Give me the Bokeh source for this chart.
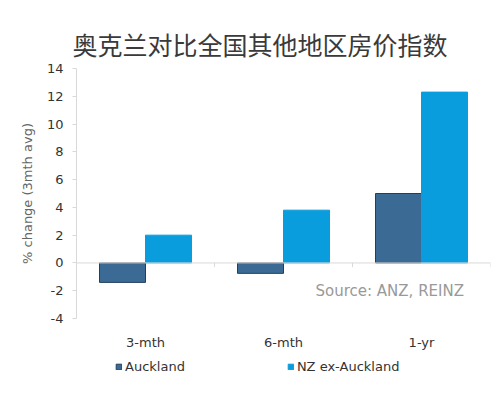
from bokeh.plotting import figure
from bokeh.layouts import column
from bokeh.models import ColumnDataSource, Label, Legend, LegendItem, Span
from bokeh.transform import dodge
from bokeh.embed import file_html
from bokeh.resources import INLINE

categories = ["3-mth", "6-mth", "1-yr"]
auckland = [-1.4, -0.75, 5.0]
nz_ex_auckland = [2.0, 3.8, 12.3]
y_ticks = [-4, -2, 0, 2, 4, 6, 8, 10, 12, 14]
series_names = ["Auckland", "NZ ex-Auckland"]
title_text = "奥克兰对比全国其他地区房价指数"
source_text = "Source: ANZ, REINZ"
y_label = "% change (3mth avg)"

C_AUCK = "#3B6B95"
C_AUCK_LINE = "#22405C"
C_NZ = "#0A9DDD"
FONT = "DejaVu Sans"

src = ColumnDataSource(dict(cat=categories, auck=auckland, nz=nz_ex_auckland))

p = figure(width=492, height=352, x_range=categories, y_range=(-4, 14),
           output_backend="svg", toolbar_location=None,
           min_border_left=76, min_border_right=2, min_border_top=68, min_border_bottom=27)
p.outline_line_color = None
p.xgrid.grid_line_color = None
p.ygrid.grid_line_color = None

p.title.text = title_text
p.title.text_font = "Noto Sans CJK SC"
p.title.text_font_size = "25px"
p.title.text_font_style = "normal"
p.title.text_color = "#3a3a3a"
p.title.align = "left"
p.title.offset = -4
p.title.standoff = 14

p.vbar(x=dodge("cat", -1/6, range=p.x_range), top="auck", width=1/3, source=src,
       fill_color=C_AUCK, line_color=C_AUCK_LINE, line_width=1)
p.vbar(x=dodge("cat", 1/6, range=p.x_range), top="nz", width=1/3, source=src,
       fill_color=C_NZ, line_color=C_NZ, line_width=1)

# zero line
p.add_layout(Span(location=0, dimension="width", line_color="#D9D9D9", line_width=1))
# category boundary ticks on zero line
p.segment(x0=dodge("cat", 0.5, range=p.x_range), x1=dodge("cat", 0.5, range=p.x_range),
          y0=0, y1=-0.3, source=src, line_color="#D9D9D9", line_width=1)

# y axis
ya = p.yaxis[0]
ya.ticker = y_ticks
ya.major_label_overrides = {t: str(t) for t in y_ticks}
ya.axis_line_color = "#D9D9D9"
ya.major_tick_line_color = "#D9D9D9"
ya.major_tick_out = 4
ya.major_tick_in = 0
ya.minor_tick_line_color = None
ya.major_label_text_font = FONT
ya.major_label_text_font_size = "13px"
ya.major_label_text_color = "#333333"
ya.major_label_standoff = 9
ya.axis_label = y_label
ya.axis_label_text_font = FONT
ya.axis_label_text_font_size = "13px"
ya.axis_label_text_font_style = "normal"
ya.axis_label_text_color = "#666666"
ya.axis_label_standoff = 9

# x axis
xa = p.xaxis[0]
xa.axis_line_color = None
xa.major_tick_line_color = None
xa.minor_tick_line_color = None
xa.major_label_text_font = FONT
xa.major_label_text_font_size = "13px"
xa.major_label_text_color = "#333333"
xa.major_label_standoff = 10

# source note
p.add_layout(Label(x=239, y=-2, x_units="screen", y_units="data", text=source_text,
                   text_font=FONT, text_font_size="15px", text_color="#999999",
                   text_align="left", text_baseline="middle"))

# legend strip (its frame is aligned with the main plot's frame by the column)
lg = figure(width=492, height=48, x_range=(0, 1), y_range=(0, 1),
            output_backend="svg", toolbar_location=None,
            x_axis_location=None, y_axis_location=None,
            min_border_left=0, min_border_right=0, min_border_top=0, min_border_bottom=0)
lg.outline_line_color = None
lg.xgrid.grid_line_color = None
lg.ygrid.grid_line_color = None
# key swatch sources: placed outside the visible range so only the legend keys show
key = ColumnDataSource(dict(x=[-5], top=[0]))
g1 = lg.vbar(x="x", top="top", width=0.1, source=key,
             fill_color=C_AUCK, line_color=C_AUCK_LINE)
g2 = lg.vbar(x="x", top="top", width=0.1, source=key,
             fill_color=C_NZ, line_color=C_NZ)
legend = Legend(items=[LegendItem(label=series_names[0], renderers=[g1]),
                       LegendItem(label=series_names[1], renderers=[g2])],
                orientation="horizontal", location=(39, 26),
                glyph_width=7, glyph_height=7, label_standoff=3, spacing=102,
                padding=0, margin=0, border_line_color=None, background_fill_alpha=0,
                label_text_font=FONT, label_text_font_size="13px",
                label_text_color="#333333")
lg.add_layout(legend, "center")

layout = column(p, lg, spacing=0)
open("out.html", "w").write(file_html(layout, INLINE))
